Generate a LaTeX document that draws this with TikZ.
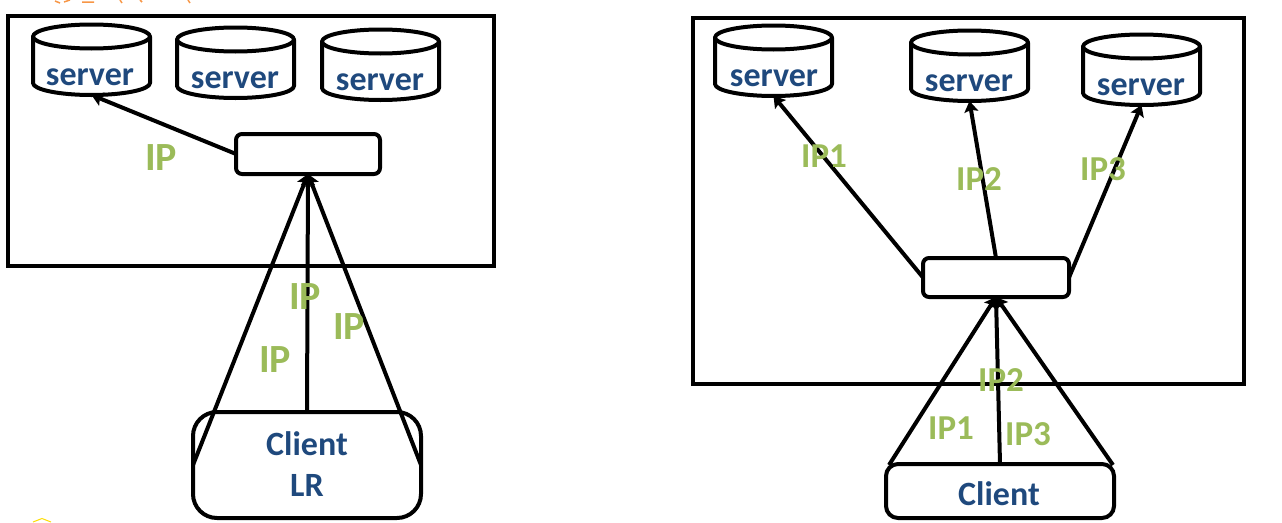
\documentclass[tikz,border=0pt]{standalone}
\usepackage{fontspec}
\setmainfont{Carlito}
\usetikzlibrary{arrows.meta}
\definecolor{navy}{HTML}{1F497D}
\definecolor{ipgreen}{HTML}{9BBB59}
\definecolor{inkorange}{HTML}{F79646}
\tikzset{
  every node/.style={outer sep=0pt,inner sep=0pt},
  frame/.style={draw=black,line width=4pt,anchor=north west,rectangle},
  smallbox/.style={frame,rounded corners=6pt},
  dbbox/.style={rectangle,minimum width=117pt,minimum height=70.5pt,anchor=north west},
  dbline/.style={draw=black,line width=4pt,line join=round},
  stxt/.style={text=navy,font=\bfseries\fontsize{34}{34}\selectfont},
  iplarge/.style={text=ipgreen,font=\bfseries\fontsize{40}{40}\selectfont},
  ipsmall/.style={text=ipgreen,font=\bfseries\fontsize{35}{35}\selectfont},
  wire/.style={line width=4pt,draw=black},
  arrow/.style={wire,-{Stealth[length=11pt,width=14pt,inset=2pt]}},
}
\newcommand{\dbshape}[3]{%
  \node[dbbox] (#1) at (#2,#3) {};
  \draw[dbline] ([yshift=-12pt]#1.north) ellipse [x radius=58.5pt,y radius=12pt];
  \draw[dbline] ([yshift=-12pt]#1.north west) -- ([yshift=12pt]#1.south west)
     arc[start angle=180,end angle=360,x radius=58.5pt,y radius=12pt]
     -- ([yshift=-12pt]#1.north east);
}
\begin{document}
\begin{tikzpicture}[x=1pt,y=-1pt]
\useasboundingbox (0,0) rectangle (1282,522);
% cropped remains at the page edges
\draw[inkorange,line width=1.5pt] (55,1)--(60,3) (64,2)--(70,0) (82,2)--(94,2) (120,0)--(122,3) (140,0)--(142,2) (188,0)--(190,3);
\draw[yellow!80!orange,line width=1pt] (33,522)--(42,518.5)--(51,522);
% left
\node[frame,minimum width=486pt,minimum height=250pt] (LF) at (8,16) {};
\dbshape{L1}{33}{24.5}
\dbshape{L2}{177}{27.5}
\dbshape{L3}{322}{29.5}
\node[stxt] at (90,77.5) {server};
\node[stxt] at (235,80.5) {server};
\node[stxt] at (380,82.5) {server};
\node[smallbox,minimum width=144pt,minimum height=40pt] (LB) at (236,134) {};
\node[frame,rounded corners=24pt,minimum width=228pt,minimum height=106pt] (LC) at (193,412) {};
\node[stxt] (LC1) at (307,444) {Client};
\node[stxt] (LC2) at (307,485) {LR};
\draw[arrow] (LB.west) -- (L1.south);
\draw[arrow] (LC.north west |- 0,465) coordinate (la) -- (LB.south);
\draw[arrow] (LC.north) -- (LB.south);
\draw[arrow] (LC.north east |- 0,465) coordinate (lb) -- (LB.south);
\node[iplarge] at (161,158) {IP};
\node[iplarge] at (305,296.5) {IP};
\node[iplarge] at (349,326.5) {IP};
\node[iplarge] at (275,360) {IP};
% right
\node[frame,minimum width=551pt,minimum height=366pt] (RF) at (693,18) {};
\dbshape{R1}{715}{25.5}
\dbshape{R2}{911}{30.5}
\dbshape{R3}{1083}{34.5}
\node[stxt] at (774,78.5) {server};
\node[stxt] at (969,83.5) {server};
\node[stxt] at (1141,87) {server};
\node[smallbox,minimum width=146pt,minimum height=39pt] (RB) at (923,258) {};
\node[frame,rounded corners=12pt,minimum width=228pt,minimum height=54pt] (RC) at (886,464) {};
\node[stxt] (RC1) at (999,494) {Client};
\draw[arrow] (RB.west) -- (R1.south);
\draw[arrow] (RB.north) -- (R2.south);
\draw[arrow] (RB.east) -- (R3.south);
\draw[arrow] (RC.north west) ++(3,1) coordinate (ra) -- (RB.south);
\draw[arrow] (RC.north) -- (RB.south);
\draw[arrow] (RC.north east) ++(-1,1) coordinate (rb) -- (RB.south);
\node[ipsmall] at (824,156) {IP1};
\node[ipsmall] at (979,179) {IP2};
\node[ipsmall] at (1103,169) {IP3};
\node[ipsmall] at (1001,380) {IP2};
\node[ipsmall] at (951,428) {IP1};
\node[ipsmall] at (1028,434) {IP3};
\end{tikzpicture}
\end{document}
